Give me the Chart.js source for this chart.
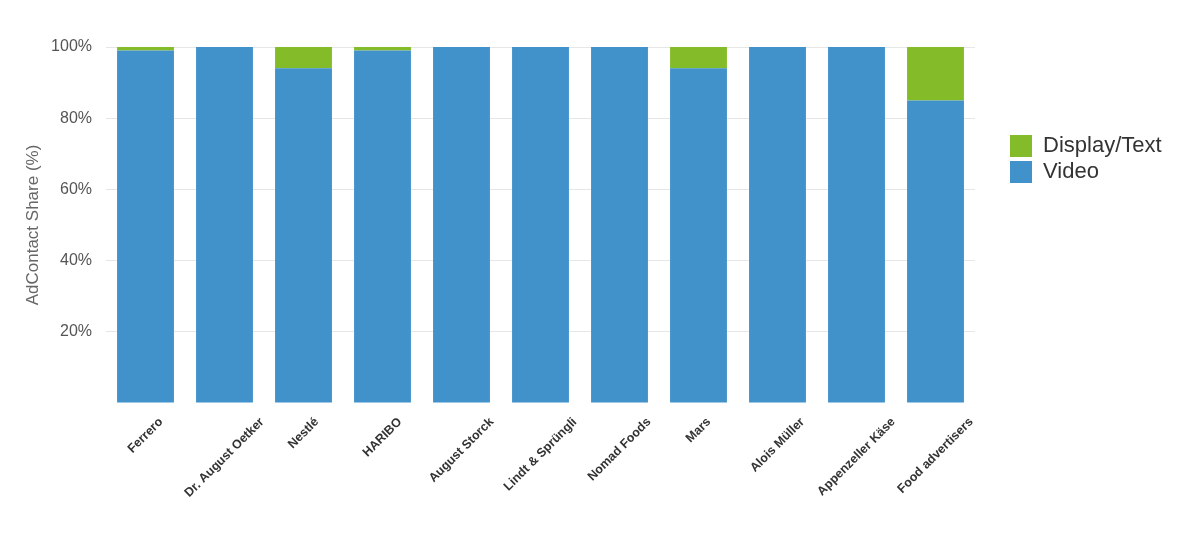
<!DOCTYPE html>
<html>
<head>
<meta charset="utf-8">
<script src="https://cdn.jsdelivr.net/npm/chart.js@4/dist/chart.umd.min.js"></script>
<style>
html,body{margin:0;padding:0;background:#fff;}
#wrap{width:1200px;height:533px;position:relative;}
</style>
</head>
<body>
<div id="wrap"><canvas id="c" width="1200" height="533"></canvas></div>
<script>
const categories = ["Ferrero","Dr. August Oetker","Nestlé","HARIBO","August Storck","Lindt & Sprüngli","Nomad Foods","Mars","Alois Müller","Appenzeller Käse","Food advertisers"];
const videoValues = [99, 100, 94, 99, 100, 100, 100, 94, 100, 100, 85];
const displayValues = [1, 0, 6, 1, 0, 0, 0, 6, 0, 0, 15];
const yTicks = [20, 40, 60, 80, 100];

const FONT = "'Liberation Sans', Arial, Helvetica, sans-serif";

const xLabelPlugin = {
  id: 'xLabels',
  afterDraw(chart) {
    const ctx = chart.ctx;
    const xs = chart.scales.x;
    const top = chart.chartArea.bottom + 17;
    ctx.save();
    ctx.font = "bold 12.5px " + FONT;
    ctx.fillStyle = '#333333';
    ctx.textAlign = 'right';
    ctx.textBaseline = 'middle';
    chart.data.labels.forEach((lab, i) => {
      const cx = xs.getPixelForTick(i);
      const w = ctx.measureText(lab).width;
      const ex = cx + w * Math.SQRT1_2 / 2;
      ctx.save();
      ctx.translate(ex, top);
      ctx.rotate(-Math.PI / 4);
      ctx.fillText(lab, 0, 0);
      ctx.restore();
    });
    ctx.restore();
  }
};

const legendWidthPlugin = {
  id: 'legendWidth',
  afterInit(chart) {
    const lg = chart.legend;
    if (lg) {
      const orig = lg.fit;
      lg.fit = function() { orig.call(this); this.width = 194; };
    }
  }
};

new Chart(document.getElementById('c'), {
  type: 'bar',
  data: {
    labels: categories,
    datasets: [
      { label: 'Video', data: videoValues, backgroundColor: '#4192ca', borderWidth: 0, barPercentage: 0.72, categoryPercentage: 1 },
      { label: 'Display/Text', data: displayValues, backgroundColor: '#84bc29', borderWidth: 0, barPercentage: 0.72, categoryPercentage: 1 }
    ]
  },
  options: {
    responsive: false,
    animation: false,
    devicePixelRatio: 1,
    layout: { padding: { top: 47, left: 23, right: 0, bottom: 0 } },
    plugins: {
      tooltip: { enabled: false },
      legend: {
        position: 'right',
        align: 'start',
        reverse: true,
        title: { display: true, text: '', font: { size: 10 }, padding: { top: 0, bottom: 72 } },
        labels: {
          boxWidth: 22,
          boxHeight: 22,
          padding: 4,
          color: '#333333',
          font: { family: FONT, size: 22 }
        }
      }
    },
    scales: {
      x: {
        stacked: true,
        grid: { display: false },
        border: { display: false },
        ticks: { display: false },
        afterFit(s) { s.height = 130; }
      },
      y: {
        stacked: true,
        min: 0,
        max: 100,
        afterBuildTicks(s) { s.ticks = [0].concat(yTicks).map(v => ({ value: v })); },
        grid: {
          color: c => (c.tick && c.tick.value === 0) ? 'rgba(0,0,0,0)' : '#e6e6e6',
          drawTicks: false,
          lineWidth: 1
        },
        border: { display: false },
        ticks: {
          padding: 14,
          color: '#555555',
          font: { family: FONT, size: 16 },
          callback: v => v === 0 ? '' : v + '%'
        },
        title: {
          display: true,
          text: 'AdContact Share (%)',
          color: '#666666',
          font: { family: FONT, size: 17 },
          padding: { top: 0, bottom: 8 }
        },
        afterFit(s) { s.width = 83; }
      },
      gap: {
        position: 'right',
        display: true,
        grid: { display: false },
        border: { display: false },
        ticks: { display: false },
        afterFit(s) { s.width = 31; }
      }
    }
  },
  plugins: [xLabelPlugin, legendWidthPlugin]
});
</script>
</body>
</html>
